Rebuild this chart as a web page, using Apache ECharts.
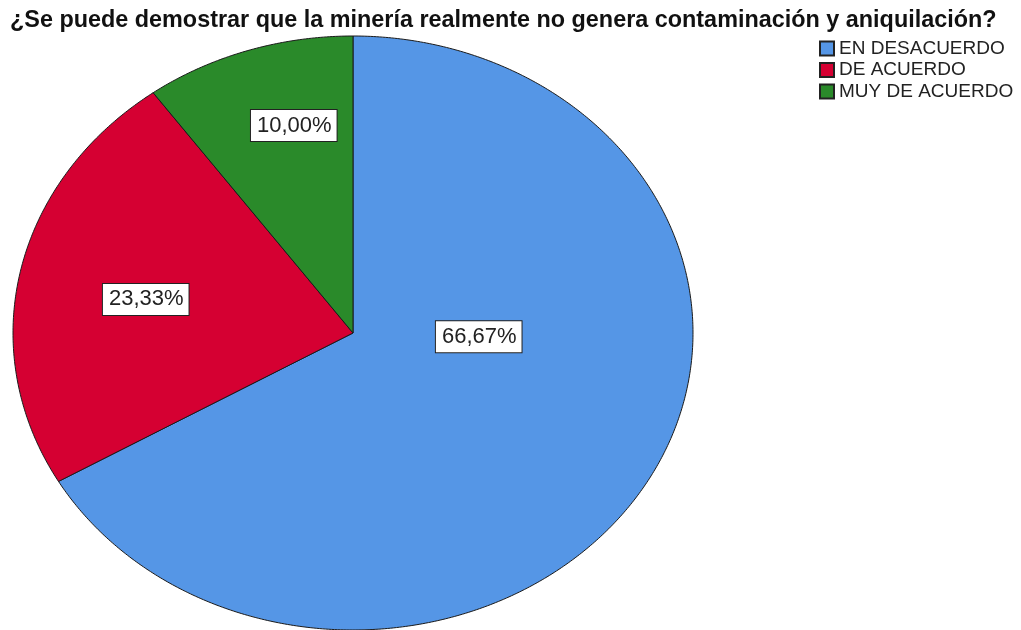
<!DOCTYPE html>
<html>
<head>
<meta charset="utf-8">
<script src="https://cdn.jsdelivr.net/npm/echarts@6/dist/echarts.min.js"></script>
<style>
html,body{margin:0;padding:0;background:#fff;}
#chart{width:1021px;height:630px;}
</style>
</head>
<body>
<div id="chart"></div>
<script>
// ---- data ----
const titleText = '¿Se puede demostrar que la minería realmente no genera contaminación y aniquilación?';
const categories = ['EN DESACUERDO', 'DE ACUERDO', 'MUY DE ACUERDO'];
const values = [66.67, 23.33, 10.00];

// ---- styles / layout ----
const colors = ['#5596e6', '#d50032', '#2a8a2a'];
const pieLayout = { cx: 353, cy: 333, rx: 340, ry: 297 };
// label placement relative to slice mid-angle (degrees shift, radius fraction)
const labelPlacement = [
  { shift: -28, r: 0.37 },
  { shift: -1.5, r: 0.62 },
  { shift: 4, r: 0.72 }
];

const total = values.reduce((a, b) => a + b, 0);
const fmt = v => v.toFixed(2).replace('.', ',') + '%';

function sliceAngles(i) {
  let before = 0;
  for (let k = 0; k < i; k++) before += values[k];
  const a0 = before / total * 360;
  const a1 = (before + values[i]) / total * 360;
  return [a0, a1];
}
function pt(tDeg, f) {
  const t = tDeg * Math.PI / 180;
  return [pieLayout.cx + pieLayout.rx * f * Math.sin(t), pieLayout.cy - pieLayout.ry * f * Math.cos(t)];
}

function makeRender(i) {
  return function (params, api) {
    const v = api.value(0);
    const [a0, a1] = sliceAngles(i);
    const pts = [[pieLayout.cx, pieLayout.cy]];
    const steps = Math.max(2, Math.ceil((a1 - a0) / 0.5));
    for (let s = 0; s <= steps; s++) {
      pts.push(pt(a0 + (a1 - a0) * s / steps, 1));
    }
    const mid = (a0 + a1) / 2 + labelPlacement[i].shift;
    const lp = pt(mid, labelPlacement[i].r);
    return {
      type: 'group',
      children: [
        {
          type: 'polygon',
          shape: { points: pts },
          style: { fill: colors[i], stroke: '#1a1a1a', lineWidth: 1, lineJoin: 'round' }
        },
        {
          type: 'text',
          x: lp[0], y: lp[1],
          z2: 10,
          style: {
            text: fmt(v),
            fill: '#222',
            font: '22px "Liberation Sans", Arial, sans-serif',
            align: 'center',
            verticalAlign: 'middle',
            backgroundColor: '#fff',
            borderColor: '#222',
            borderWidth: 1,
            padding: [5, 5, 4, 6]
          }
        }
      ]
    };
  };
}

const series = categories.map((name, i) => ({
  type: 'custom',
  name: name,
  coordinateSystem: 'none',
  color: colors[i],
  itemStyle: { color: colors[i], borderColor: '#222', borderWidth: 1 },
  renderItem: makeRender(i),
  data: [[values[i]]],
  z: 2
}));

const chart = echarts.init(document.getElementById('chart'), null, { renderer: 'canvas' });
chart.setOption({
  animation: false,
  backgroundColor: '#fff',
  title: {
    text: titleText,
    left: 5, top: 4,
    textStyle: { fontFamily: '"Liberation Sans", Arial, sans-serif', fontWeight: 'bold', fontSize: 23.4, color: '#111' }
  },
  legend: {
    orient: 'vertical',
    left: 814, top: 34,
    itemWidth: 14, itemHeight: 14,
    itemGap: 2.5,
    icon: 'rect',
    data: categories,
    textStyle: { fontFamily: '"Liberation Sans", Arial, sans-serif', fontSize: 19, color: '#222' }
  },
  series: series
});
</script>
</body>
</html>
